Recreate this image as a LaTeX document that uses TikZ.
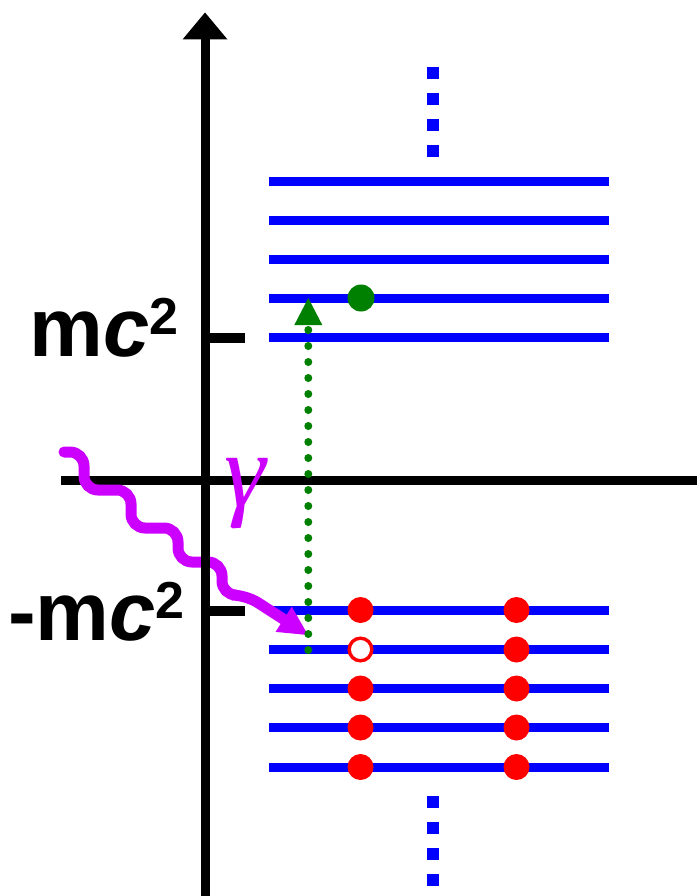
\documentclass[tikz,border=0pt]{standalone}
\usepackage{fontspec}
\setmainfont{Liberation Sans}
\newfontfamily\serifg{Liberation Serif}
\usetikzlibrary{arrows.meta}
\definecolor{lvlblue}{RGB}{0,0,255}
\definecolor{dotred}{RGB}{255,0,0}
\definecolor{dotgreen}{RGB}{0,128,0}
\definecolor{photon}{RGB}{204,0,255}
\begin{document}
\begin{tikzpicture}[x=1pt,y=-1pt,
  level/.style={lvlblue, line width=9pt},
  etc/.style={lvlblue, line width=12pt, dash pattern=on 12pt off 14pt},
  axis/.style={black, line width=9pt},
  tick/.style={black, line width=10pt},
  electron/.style={circle, fill=dotred, draw=none, minimum size=26pt, inner sep=0pt},
  hole/.style={circle, fill=white, draw=dotred, line width=3.4pt, minimum size=22.6pt, inner sep=0pt},
  excited/.style={circle, fill=dotgreen, draw=none, minimum size=27pt, inner sep=0pt},
  biglabel/.style={anchor=base east, inner sep=0pt, font=\fontsize{83}{90}\selectfont\bfseries}
]
\useasboundingbox (0,0) rectangle (697,896);

% upper (positive energy) levels
\foreach \y [count=\i] in {181.5,220,259,298,337.5}{
  \coordinate (uL\i) at (269,\y);
  \coordinate (uR\i) at (608.5,\y);
  \draw[level] (uL\i) -- (uR\i);
}
% lower (negative energy) levels
\foreach \y [count=\i] in {610,649.5,688.5,727.5,767}{
  \coordinate (lL\i) at (269,\y);
  \coordinate (lR\i) at (608.5,\y);
  \draw[level] (lL\i) -- (lR\i);
}

% continuation dots
\coordinate (topA) at (432.5,67);
\coordinate (topB) at (432.5,157);
\draw[etc] (topA) -- (topB);
\coordinate (botA) at (432.5,796);
\coordinate (botB) at (432.5,886);
\draw[etc] (botA) -- (botB);

% horizontal axis
\coordinate (hL) at (61,480);
\coordinate (hR) at (697,480);
\draw[axis] (hL) -- (hR);

% photon
\coordinate (ph0) at (64,452);
\coordinate (phTip) at (308,635);
\draw[photon, line width=11pt, line cap=round, rounded corners=14pt,
  -{Triangle[length=29pt,width=30pt,line width=0pt]}]
  (ph0) -- (84,452) -- (84,490) -- (131,490) -- (131,528) -- (178,528)
  -- (178,562) -- (222,562) -- (222,595) -- (246,595) -- (phTip);

% vertical axis with arrow
\coordinate (vB) at (205,896);
\coordinate (vT) at (205,12.5);
\draw[axis, -{Triangle[length=27pt,width=45pt,line width=0pt]}] (vB) -- (vT);

% ticks
\coordinate (t1a) at (205,337.5);
\coordinate (t1b) at (245,337.5);
\draw[tick] (t1a) -- (t1b);
\coordinate (t2a) at (205,611);
\coordinate (t2b) at (245,611);
\draw[tick] (t2a) -- (t2b);

% excitation (green dotted arrow)
\coordinate (gB) at (308.3,650);
\coordinate (gT) at (308.3,298);
\draw[dotgreen, line width=8pt, line cap=round, dash pattern=on 0pt off 16pt,
  -{Triangle[length=27pt,width=28pt,line width=0pt]}] (gB) -- (gT);

% excited electron
\node[excited] (e0) at (361,298) {};

% sea of electrons
\foreach \y [count=\i] in {610,649.5,688.5,727.5,767}{
  \node[electron] (r\i) at (516.5,\y) {};
}
\foreach \y [count=\i] in {610,688.5,727.5,767}{
  \node[electron] (l\i) at (360.5,\y) {};
}
\node[hole] (hole) at (360.5,649.5) {};

% labels
\node[biglabel] (mc) at (179,356) {m\textit{c}\raisebox{22pt}{\fontsize{52}{56}\selectfont 2}};
\node[biglabel] (mmc) at (185,640) {-m\textit{c}\raisebox{22pt}{\fontsize{52}{56}\selectfont 2}};
\node[photon, inner sep=0pt, font=\serifg\itshape\fontsize{105}{105}\selectfont] (gam) at (245.5,494) {γ};
\end{tikzpicture}
\end{document}
